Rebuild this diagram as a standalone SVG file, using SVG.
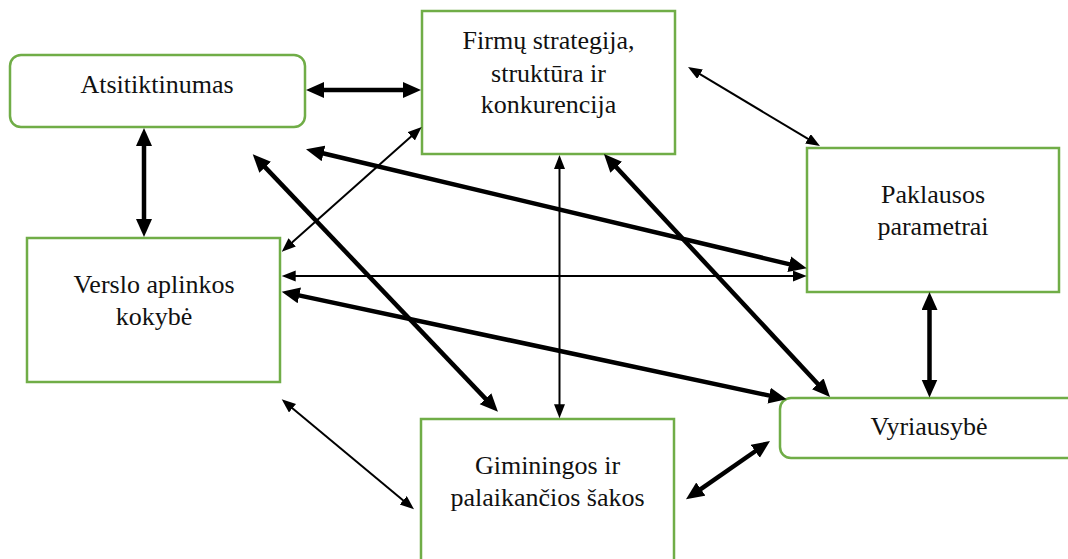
<svg xmlns="http://www.w3.org/2000/svg" width="1068" height="559" viewBox="0 0 1068 559">
  <style>
    .box { fill: #ffffff; stroke: #70AD47; stroke-width: 2.5; }
    .lbl { font-family: "Liberation Serif", "Times New Roman", serif; font-size: 26px; fill: #111111; text-anchor: middle; }
    .thick { stroke: #000; stroke-width: 4.5; fill: none; marker-start: url(#hk); marker-end: url(#hk); }
    .thin { stroke: #000; stroke-width: 2; fill: none; marker-start: url(#hn); marker-end: url(#hn); }
  </style>
  <defs>
    <marker id="hk" markerUnits="userSpaceOnUse" markerWidth="20" markerHeight="17" refX="4" refY="8" orient="auto-start-reverse">
      <path d="M0,0 L18,8 L0,16 z" fill="#000"/>
    </marker>
    <marker id="hn" markerUnits="userSpaceOnUse" markerWidth="15" markerHeight="12" refX="4" refY="5.5" orient="auto-start-reverse">
      <path d="M0,0 L14,5.5 L0,11 z" fill="#000"/>
    </marker>
  </defs>
  <rect width="1068" height="559" fill="#ffffff"/>

  <g id="atsitiktinumas">
    <rect class="box" x="10" y="55" width="295" height="72" rx="11"/>
    <text class="lbl" x="157" y="93">Atsitiktinumas</text>
  </g>
  <g id="firmu">
    <rect class="box" x="422" y="11" width="253" height="143"/>
    <text class="lbl" x="548.5" y="49">Firmų strategija,</text>
    <text class="lbl" x="548.5" y="81.5">struktūra ir</text>
    <text class="lbl" x="548.5" y="113">konkurencija</text>
  </g>
  <g id="paklausos">
    <rect class="box" x="807" y="148" width="252" height="144"/>
    <text class="lbl" x="933" y="203">Paklausos</text>
    <text class="lbl" x="933" y="235">parametrai</text>
  </g>
  <g id="verslo">
    <rect class="box" x="27" y="238" width="253" height="144"/>
    <text class="lbl" x="154" y="292.5">Verslo aplinkos</text>
    <text class="lbl" x="154" y="325">kokybė</text>
  </g>
  <g id="giminingos">
    <rect class="box" x="421" y="419" width="253" height="200"/>
    <text class="lbl" x="547.5" y="474">Giminingos ir</text>
    <text class="lbl" x="547.5" y="506">palaikančios šakos</text>
  </g>
  <g id="vyriausybe">
    <rect class="box" x="780" y="398" width="300" height="60" rx="11"/>
    <text class="lbl" x="929" y="435">Vyriausybė</text>
  </g>

  <g id="connectors">
    <line class="thick" x1="320" y1="90" x2="407" y2="90"/>
    <line class="thick" x1="144" y1="142" x2="144" y2="223"/>
    <line class="thin" x1="414.2" y1="133.7" x2="289.2" y2="245"/>
    <line class="thick" x1="319.6" y1="152.5" x2="793.1" y2="265.1"/>
    <line class="thin" x1="291.7" y1="276" x2="796.7" y2="276"/>
    <line class="thick" x1="295.4" y1="294.6" x2="773" y2="396.4"/>
    <line class="thick" x1="262.4" y1="164.4" x2="488.3" y2="401.6"/>
    <line class="thin" x1="559.5" y1="165" x2="559.5" y2="408.3"/>
    <line class="thick" x1="613.5" y1="164.3" x2="820.5" y2="386.8"/>
    <line class="thin" x1="696.6" y1="72.1" x2="811.4" y2="140.9"/>
    <line class="thick" x1="929.5" y1="306" x2="929.5" y2="383.5"/>
    <line class="thin" x1="289.4" y1="405.7" x2="406.3" y2="502.9"/>
    <line class="thick" x1="697.5" y1="491.3" x2="758.5" y2="449"/>
  </g>
</svg>
